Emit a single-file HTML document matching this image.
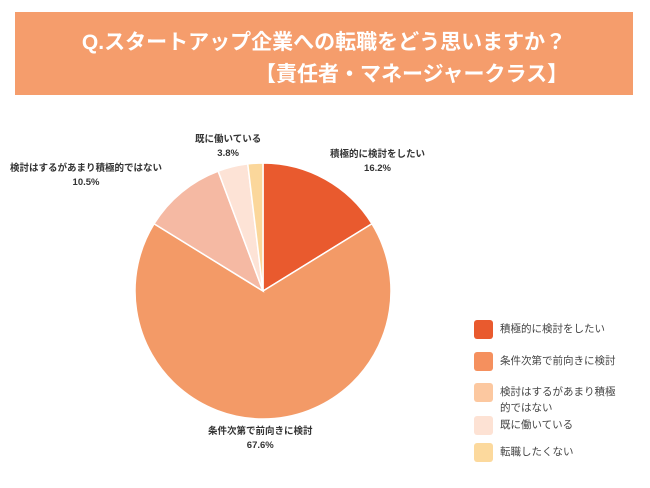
<!DOCTYPE html>
<html><head><meta charset="utf-8"><style>
body{margin:0;width:650px;height:488px;background:#fff;overflow:hidden;font-family:"Liberation Sans","Noto Sans CJK JP",sans-serif}
#title{position:absolute;left:15px;top:12px;width:618px;height:83px;background:#f59d6c;color:#fff;font-weight:bold;font-size:21px}
.lbl{position:absolute;font-size:9.5px;font-weight:bold;color:#333;text-align:center;line-height:14px;white-space:nowrap}
.lg{position:absolute;left:474px;font-size:10.5px;color:#444;line-height:16px}
.lg span{position:absolute;left:0;top:0;width:19px;height:19px;border-radius:3px}
.lg div{position:absolute;left:26px;top:1px;white-space:nowrap}
</style></head><body>
<div id="title">
<div style="position:absolute;left:0;width:618px;text-align:center;top:14px">Q.スタートアップ企業への転職をどう思いますか？</div>
<div style="position:absolute;left:240px;top:46px">【責任者・マネージャークラス】</div>
</div>
<svg id="pie" width="650" height="488" style="position:absolute;left:0;top:0"></svg>
<div class="lbl" style="left:330px;top:148px">積極的に検討をしたい<br>16.2%</div>
<div class="lbl" style="left:208px;top:425px">条件次第で前向きに検討<br>67.6%</div>
<div class="lbl" style="left:10px;top:162px">検討はするがあまり積極的ではない<br>10.5%</div>
<div class="lbl" style="left:195px;top:133px">既に働いている<br>3.8%</div>
<div class="lg" style="top:320px"><span style="background:#e95a2e"></span><div>積極的に検討をしたい</div></div>
<div class="lg" style="top:352px"><span style="background:#f5905e"></span><div>条件次第で前向きに検討</div></div>
<div class="lg" style="top:383px"><span style="background:#fcc8a0"></span><div>検討はするがあまり積極<br>的ではない</div></div>
<div class="lg" style="top:416px"><span style="background:#fde2d4"></span><div>既に働いている</div></div>
<div class="lg" style="top:443px"><span style="background:#fcd99d"></span><div>転職したくない</div></div>
<script>
const categories=["積極的に検討をしたい","条件次第で前向きに検討","検討はするがあまり積極的ではない","既に働いている","転職したくない"];
const values=[16.2,67.6,10.5,3.8,1.9];
const colors=["#e95a2e","#f39a67","#f5b9a3","#fde3d6","#fbd79b"];
const svg=document.getElementById('pie');
const cx=263,cy=291,r=128;
const total=values.reduce((a,b)=>a+b,0);
let a0=-Math.PI/2;
values.forEach((v,i)=>{
 const a1=a0+v/total*2*Math.PI;
 const x0=cx+r*Math.cos(a0),y0=cy+r*Math.sin(a0),x1=cx+r*Math.cos(a1),y1=cy+r*Math.sin(a1);
 const p=document.createElementNS('http://www.w3.org/2000/svg','path');
 p.setAttribute('d',`M${cx},${cy}L${x0},${y0}A${r},${r} 0 ${a1-a0>Math.PI?1:0} 1 ${x1},${y1}Z`);
 p.setAttribute('fill',colors[i]);
 p.setAttribute('stroke','#fff');
 p.setAttribute('stroke-width','1.5');
 
 
 svg.appendChild(p);
 a0=a1;
});
</script>
</body></html>
